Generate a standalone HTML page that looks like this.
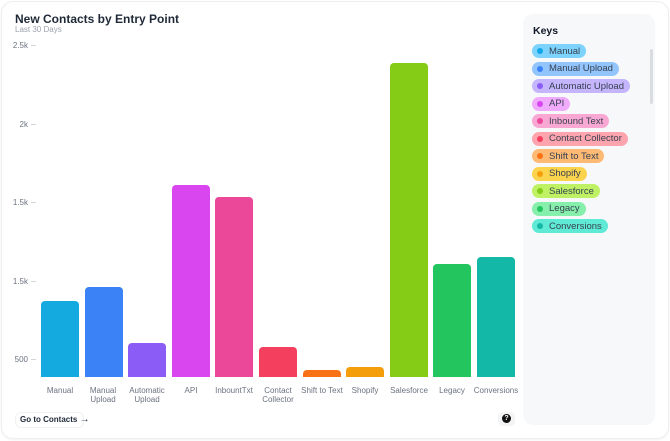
<!DOCTYPE html><html><head><style>
body{margin:0;width:670px;height:441px;background:#fff;font-family:"Liberation Sans",sans-serif;position:relative;overflow:hidden}
.card{position:absolute;left:1px;top:1px;width:666px;height:436px;border:1px solid #eceef1;border-radius:12px;box-shadow:0 1px 2px rgba(0,0,0,.05)}
.a{position:absolute}
.t{left:15px;top:12px;font-size:12px;font-weight:bold;color:#1f2937}
.s{left:15px;top:25px;font-size:8px;color:#9ca3af}
.y{font-size:8px;color:#6b7280;text-align:right;width:30px}
.tk{width:5px;height:1px;background:#d1d5db}
.b{border-radius:4px 4px 0 0;width:38px}
.xl{font-size:8px;color:#6b7280;text-align:center;width:60px;line-height:9px}
.keys{left:523px;top:14px;width:132px;height:411px;background:#f7f8fa;border-radius:10px}
.pill{position:absolute;left:9px;height:14px;border-radius:7px;font-size:9.5px;padding:0 6px 0 17px;color:#374151;white-space:nowrap;display:flex;align-items:center}
.pill i{position:absolute;left:5px;top:4px;width:6px;height:6px;border-radius:50%}
</style></head><body>
<div class="card"></div>
<div class="a t">New Contacts by Entry Point</div>
<div class="a s">Last 30 Days</div>
<div class="a y" style="left:-2px;top:41px">2.5k</div><div class="a tk" style="left:31px;top:45px"></div>
<div class="a y" style="left:-2px;top:120px">2k</div><div class="a tk" style="left:31px;top:124px"></div>
<div class="a y" style="left:-2px;top:198px">1.5k</div><div class="a tk" style="left:31px;top:202px"></div>
<div class="a y" style="left:-2px;top:277px">1.5k</div><div class="a tk" style="left:31px;top:281px"></div>
<div class="a y" style="left:-2px;top:355px">500</div><div class="a tk" style="left:31px;top:359px"></div>
<div class="a b" style="left:41px;top:301px;height:76px;background:#14a9df"></div>
<div class="a b" style="left:85px;top:287px;height:90px;background:#3b82f6"></div>
<div class="a b" style="left:128px;top:343px;height:34px;background:#8b5cf6"></div>
<div class="a b" style="left:172px;top:185px;height:192px;background:#d946ef"></div>
<div class="a b" style="left:215px;top:197px;height:180px;background:#ec4899"></div>
<div class="a b" style="left:259px;top:347px;height:30px;background:#f43f5e"></div>
<div class="a b" style="left:303px;top:370px;height:7px;background:#f97316"></div>
<div class="a b" style="left:346px;top:367px;height:10px;background:#f59e0b"></div>
<div class="a b" style="left:390px;top:63px;height:314px;background:#84cc16"></div>
<div class="a b" style="left:433px;top:264px;height:113px;background:#22c55e"></div>
<div class="a b" style="left:477px;top:257px;height:120px;background:#14b8a6"></div>
<div class="a xl" style="left:30px;top:386px">Manual</div>
<div class="a xl" style="left:73px;top:386px">Manual<br>Upload</div>
<div class="a xl" style="left:117px;top:386px">Automatic<br>Upload</div>
<div class="a xl" style="left:161px;top:386px">API</div>
<div class="a xl" style="left:204px;top:386px">InbountTxt</div>
<div class="a xl" style="left:248px;top:386px">Contact<br>Collector</div>
<div class="a xl" style="left:292px;top:386px">Shift to Text</div>
<div class="a xl" style="left:335px;top:386px">Shopify</div>
<div class="a xl" style="left:379px;top:386px">Salesforce</div>
<div class="a xl" style="left:422px;top:386px">Legacy</div>
<div class="a xl" style="left:466px;top:386px">Conversions</div>
<div class="a" style="left:15px;top:412px;width:63px;height:14px;border:1px solid #f0f1f3;border-radius:6px;font-size:8px;font-weight:bold;color:#1f2937;line-height:14px;padding-left:4px;white-space:nowrap">Go to Contacts <span style="font-size:10px">&#8594;</span></div>
<div class="a" style="left:498px;top:412px;width:17px;height:14px;background:#f3f4f6;border-radius:5px"></div>
<div class="a" style="left:502px;top:414px;width:9px;height:9px;background:#111;border-radius:50%;color:#fff;font-size:7px;font-weight:bold;text-align:center;line-height:9px">?</div>
<div class="a keys">
<div class="a" style="left:10px;top:11px;font-size:10.5px;font-weight:bold;color:#111827">Keys</div>
<div class="a" style="left:127px;top:35px;width:3px;height:55px;background:#d9dce1;border-radius:2px"></div>
<div class="pill" style="top:30px;background:#7dd3fc"><i style="background:#0ea5e9"></i>Manual</div>
<div class="pill" style="top:47.5px;background:#93c5fd"><i style="background:#3b82f6"></i>Manual Upload</div>
<div class="pill" style="top:65px;background:#c4b5fd"><i style="background:#8b5cf6"></i>Automatic Upload</div>
<div class="pill" style="top:82.5px;background:#f0abfc"><i style="background:#d946ef"></i>API</div>
<div class="pill" style="top:100px;background:#f9a8d4"><i style="background:#ec4899"></i>Inbound Text</div>
<div class="pill" style="top:117.5px;background:#fda4af"><i style="background:#f43f5e"></i>Contact Collector</div>
<div class="pill" style="top:135px;background:#fdba74"><i style="background:#f97316"></i>Shift to Text</div>
<div class="pill" style="top:152.5px;background:#fcd34d"><i style="background:#f59e0b"></i>Shopify</div>
<div class="pill" style="top:170px;background:#bef264"><i style="background:#84cc16"></i>Salesforce</div>
<div class="pill" style="top:187.5px;background:#86efac"><i style="background:#22c55e"></i>Legacy</div>
<div class="pill" style="top:205px;background:#5eead4"><i style="background:#14b8a6"></i>Conversions</div>
</div>
</body></html>
